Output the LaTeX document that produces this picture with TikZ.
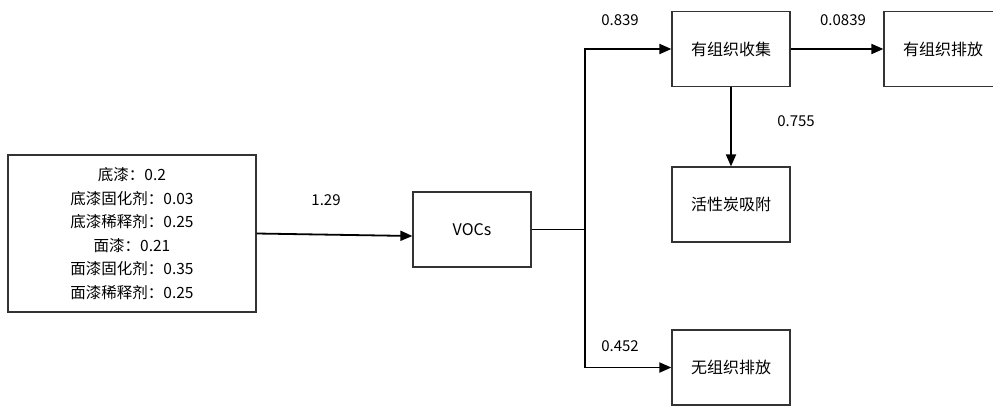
\documentclass[tikz,border=0pt]{standalone}
\usepackage{fontspec}
\setmainfont{Noto Sans CJK SC}
\usepackage{tikz}
\usetikzlibrary{arrows.meta,positioning}

\begin{document}
\begin{tikzpicture}[
            x = 1pt, y = -1pt, % pixel grid, y downwards
            > = {Triangle[length=12pt,width=10pt]}, % arrow head style
            box/.style = {draw = black!80, line width = 1.2pt, minimum width = 118pt,
                          minimum height = 75pt, inner sep = 0pt, font = \fontsize{16}{18}\selectfont},
            flow/.style = {line width = 1.8pt},
            val/.style = {font = \fontsize{15}{17}\selectfont}
        ]
	\useasboundingbox (0,0) rectangle (993,405);

	\node[box, minimum width = 248pt, minimum height = 157pt, align = center,
	      font = \fontsize{15.5}{23.5}\selectfont] (src) at (132,233.5)
	      {底漆：0.2\\底漆固化剂：0.03\\底漆稀释剂：0.25\\面漆：0.21\\面漆固化剂：0.35\\面漆稀释剂：0.25};
	\node[box] (voc) at (472,229.5) {VOCs};
	\node[box] (collect) at (731,49) {有组织收集};
	\node[box] (stack) at (943,49) {有组织排放};
	\node[box] (carbon) at (731,204.5) {活性炭吸附};
	\node[box] (fugitive) at (731,367.5) {无组织排放};

	\coordinate (split) at (585,229.5);

	\draw[flow,->] (src.east) -- ([yshift=-6.5pt]voc.west);
	\draw[flow] (voc.east) -- (split);
	\draw[flow,->] (split) |- (collect.west);
	\draw[flow,->] (split) |- (fugitive.west);
	\draw[flow,->] (collect.east) -- (stack.west);
	\draw[flow,->] (collect.south) -- (carbon.north);

	\node[val] (v129) at (326,200) {1.29};
	\node[val] (v839) at (620,20) {0.839};
	\node[val] (v0839) at (843,20) {0.0839};
	\node[val] (v755) at (796,121) {0.755};
	\node[val] (v452) at (620,346) {0.452};

\end{tikzpicture}
\end{document}
